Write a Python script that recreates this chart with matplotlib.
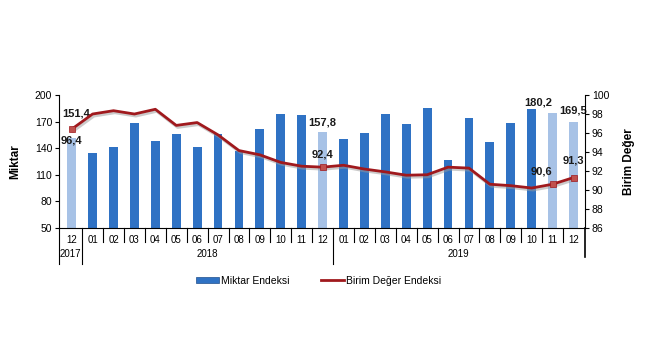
import matplotlib.pyplot as plt
import matplotlib.patheffects as pe
from matplotlib.patches import Patch
from matplotlib.lines import Line2D
import matplotlib.transforms as mtransforms

plt.rcParams['font.family'] = ['Liberation Sans', 'DejaVu Sans']

months = ['12', '01', '02', '03', '04', '05', '06', '07', '08', '09', '10', '11', '12',
          '01', '02', '03', '04', '05', '06', '07', '08', '09', '10', '11', '12']
years = ['2017', '2018', '2019']
miktar = [151.4, 134, 141, 168, 148.4, 155.5, 141, 155.5, 137, 162, 179, 178, 157.8,
          150, 156.7, 179, 166.8, 185, 127, 174, 146.8, 168.8, 183.8, 180.2, 169.5]
birim = [96.4, 98.0, 98.35, 98.0, 98.5, 96.8, 97.1, 95.8, 94.15, 93.7, 92.9, 92.5, 92.4,
         92.6, 92.2, 91.9, 91.55, 91.6, 92.4, 92.3, 90.6, 90.45, 90.2, 90.6, 91.3]
light = [0, 12, 23, 24]

dark_blue = '#2F72C4'
light_blue = '#A7C2E6'
red = '#A0191D'

fig = plt.figure(figsize=(6.5, 3.6), dpi=100)
ax = fig.add_axes([0.091, 0.367, 0.809, 0.369])
ax2 = ax.twinx()

x = list(range(len(months)))
colors = [light_blue if i in light else dark_blue for i in x]
ax.bar(x, [m - 50 for m in miktar], bottom=50, width=0.42, color=colors, zorder=2)
ax.set_ylim(50, 200)
ax.set_yticks([50, 80, 110, 140, 170, 200])
ax.set_xlim(-0.6, len(months) - 0.45)

ax2.plot(x, birim, color=red, lw=2.0, zorder=3,
         path_effects=[pe.SimpleLineShadow(offset=(1, -1.5), shadow_color='#999999', alpha=0.5),
                       pe.Normal()])
ax2.plot([x[i] for i in light], [birim[i] for i in light], 's', color='#C0504D',
         markersize=4, markeredgecolor=red, markeredgewidth=0.5, zorder=4)
ax2.set_ylim(86, 100)
ax2.set_yticks(range(86, 101, 2))

for a in (ax, ax2):
    a.spines['top'].set_visible(False)
    a.tick_params(labelsize=7.5, length=3, width=0.8, pad=2)
ax.spines['right'].set_visible(False)
ax2.spines['left'].set_visible(False)
ax2.spines['bottom'].set_visible(False)
ax.set_xticks(x)
ax.set_xticklabels(months, fontsize=7)
ax.tick_params(axis='x', length=0, pad=5)

ax.set_ylabel('Miktar', fontsize=8.5, fontweight='bold', labelpad=10)
ax2.set_ylabel('Birim Değer', fontsize=8.5, fontweight='bold', labelpad=10)

# category separators and year labels
trans = mtransforms.blended_transform_factory(ax.transData, ax.transAxes)
for i in range(len(months)):
    b = i + 0.5
    if i in (0, 12):
        ax.plot([b, b], [0, -0.27], color='black', lw=0.8, transform=trans, clip_on=False)
    elif i < len(months) - 1:
        ax.plot([b, b], [0, -0.11], color='black', lw=0.8, transform=trans, clip_on=False)
ax.plot([-0.6, -0.6], [0, -0.27], color='black', lw=0.8, transform=trans, clip_on=False)
ax.plot([len(months) - 0.45] * 2, [0, -0.22], color='black', lw=1.2, transform=trans, clip_on=False)
ax.text(-0.05, -0.2, years[0], transform=trans, ha='center', va='center', fontsize=7)
ax.text(6.5, -0.2, years[1], transform=trans, ha='center', va='center', fontsize=7)
ax.text(18.5, -0.2, years[2], transform=trans, ha='center', va='center', fontsize=7)

# value labels
def lab(a, xi, yi, text, dx, dy):
    a.annotate(text, (xi, yi), xytext=(dx, dy), textcoords='offset points',
               ha='center', va='center', fontsize=8, fontweight='bold', color='#1a1a1a')

lab(ax, 0, miktar[0], '151,4', 3, 18)
lab(ax2, 0, birim[0], '96,4', 0, -8)
lab(ax, 12, miktar[12], '157,8', 0, 7)
lab(ax2, 12, birim[12], '92,4', 0, 9)
lab(ax, 23, miktar[23], '180,2', -10, 7)
lab(ax, 24, miktar[24], '169,5', 0, 8)
lab(ax2, 23, birim[23], '90,6', -8, 9)
lab(ax2, 24, birim[24], '91,3', 0, 12)

handles = [Patch(facecolor=dark_blue, edgecolor='#1F4E8C', linewidth=0.5),
           Line2D([0], [0], color=red, lw=2)]
fig.legend(handles, ['Miktar Endeksi', 'Birim Değer Endeksi'], loc='center',
           bbox_to_anchor=(0.49, 0.22), ncol=2, frameon=False, fontsize=7.5,
           handlelength=2.2, handleheight=0.5, columnspacing=3, handletextpad=0.2)

fig.savefig('out.png', dpi=100, facecolor='white')
